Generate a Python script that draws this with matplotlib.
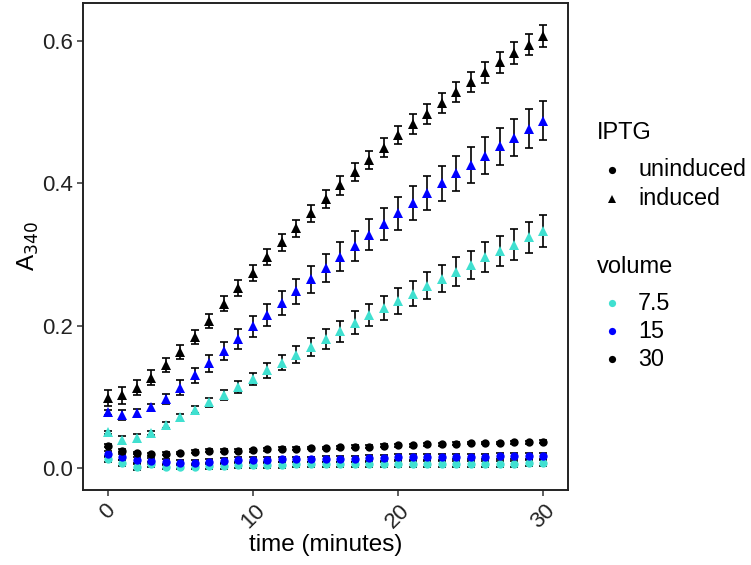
import numpy as np
import matplotlib
matplotlib.use("Agg")
import matplotlib.pyplot as plt
from matplotlib.lines import Line2D

plt.rcParams['font.family'] = ['Liberation Sans', 'DejaVu Sans']

time = list(range(31))

# induced (triangles)
ind_30 = [0.098, 0.102, 0.113, 0.127, 0.145, 0.163, 0.184, 0.206, 0.231, 0.253, 0.274,
          0.296, 0.317, 0.337, 0.358, 0.378, 0.397, 0.416, 0.433, 0.450, 0.468,
          0.483, 0.498, 0.513, 0.528, 0.542, 0.556, 0.570, 0.583, 0.595, 0.607]
ind_30_err = [0.011, 0.012, 0.011, 0.011, 0.010, 0.010, 0.010, 0.010, 0.011, 0.011, 0.011,
              0.011, 0.012, 0.012, 0.012, 0.012, 0.013, 0.013, 0.013, 0.013, 0.013,
              0.014, 0.014, 0.014, 0.014, 0.014, 0.015, 0.015, 0.015, 0.015, 0.016]
ind_15 = [0.078, 0.075, 0.077, 0.085, 0.097, 0.113, 0.130, 0.147, 0.164, 0.181, 0.199,
          0.215, 0.232, 0.248, 0.265, 0.281, 0.297, 0.312, 0.328, 0.343, 0.358,
          0.372, 0.386, 0.400, 0.414, 0.426, 0.439, 0.452, 0.464, 0.477, 0.488]
ind_15_err = [0.004, 0.007, 0.006, 0.005, 0.007, 0.010, 0.011, 0.012, 0.013, 0.014, 0.015,
              0.016, 0.017, 0.018, 0.019, 0.019, 0.020, 0.021, 0.022, 0.022, 0.023,
              0.024, 0.024, 0.025, 0.025, 0.025, 0.026, 0.026, 0.026, 0.027, 0.027]
ind_7_5 = [0.050, 0.039, 0.042, 0.049, 0.060, 0.071, 0.082, 0.092, 0.103, 0.114, 0.125,
           0.137, 0.148, 0.159, 0.170, 0.181, 0.192, 0.204, 0.215, 0.225, 0.235,
           0.245, 0.256, 0.266, 0.276, 0.285, 0.296, 0.305, 0.314, 0.324, 0.333]
ind_7_5_err = [0.002, 0.006, 0.005, 0.003, 0.004, 0.005, 0.005, 0.006, 0.007, 0.008, 0.009,
               0.010, 0.011, 0.012, 0.013, 0.014, 0.015, 0.016, 0.016, 0.017, 0.018,
               0.018, 0.019, 0.019, 0.020, 0.020, 0.021, 0.021, 0.022, 0.022, 0.023]

# uninduced (circles)
un_30 = [0.031, 0.024, 0.021, 0.019, 0.020, 0.021, 0.023, 0.024, 0.024, 0.024, 0.025,
         0.026, 0.027, 0.027, 0.028, 0.028, 0.029, 0.030, 0.030, 0.031, 0.032,
         0.032, 0.033, 0.033, 0.034, 0.035, 0.035, 0.035, 0.036, 0.036, 0.037]
un_30_err = [0.002] * 31
un_15 = [0.020, 0.015, 0.011, 0.010, 0.008, 0.0075, 0.0075, 0.009, 0.010, 0.011, 0.011,
         0.011, 0.012, 0.012, 0.012, 0.013, 0.013, 0.013, 0.014, 0.014, 0.015,
         0.015, 0.015, 0.015, 0.016, 0.016, 0.016, 0.017, 0.017, 0.017, 0.017]
un_15_err = [0.004] * 31
un_7_5 = [0.013, 0.007, 0.001, 0.005, 0.002, 0.002, 0.002, 0.003, 0.003, 0.004, 0.004,
          0.004, 0.004, 0.005, 0.005, 0.005, 0.005, 0.005, 0.005, 0.005, 0.006,
          0.006, 0.006, 0.006, 0.006, 0.006, 0.006, 0.006, 0.006, 0.007, 0.007]
un_7_5_err = [0.004] * 31

volumes = ['7.5', '15', '30']
iptg_levels = ['uninduced', 'induced']
colors = {'7.5': '#40E0D0', '15': '#0000FF', '30': '#000000'}
markers = {'uninduced': 'o', 'induced': '^'}

series = [
    ('7.5', 'uninduced', un_7_5, un_7_5_err),
    ('15', 'uninduced', un_15, un_15_err),
    ('30', 'uninduced', un_30, un_30_err),
    ('7.5', 'induced', ind_7_5, ind_7_5_err),
    ('15', 'induced', ind_15, ind_15_err),
    ('30', 'induced', ind_30, ind_30_err),
]

W, H = 751, 565
fig = plt.figure(figsize=(W / 100, H / 100), dpi=100)
ax = fig.add_axes([83 / W, 1 - 490 / H, 485 / W, 487 / H])

for vol, iptg, vals, err in series:
    ax.errorbar(time, vals, yerr=err, fmt='none', ecolor='black', elinewidth=1.2,
                capsize=2.7, capthick=1.2, zorder=2)
for vol, iptg, vals, err in series:
    ax.plot(time, vals, linestyle='none', marker=markers[iptg],
            markersize=6.8 if iptg == 'induced' else 6.0,
            color=colors[vol], markeredgewidth=0, zorder=3)

ax.set_xlim(-1.72, 31.72)
ax.set_ylim(-0.031, 0.6534)
ax.set_xticks([0, 10, 20, 30])
ax.set_yticks([0.0, 0.2, 0.4, 0.6])
ax.set_yticklabels(['0.0', '0.2', '0.4', '0.6'])
for s in ax.spines.values():
    s.set_linewidth(1.4)
    s.set_color('#222222')
ax.tick_params(length=4, width=1.1, color='#333333', labelsize=16, labelcolor='#222222', pad=3)
plt.setp(ax.get_xticklabels(), rotation=45, ha='center', va='top')
ax.set_xlabel('time (minutes)', fontsize=17.5, labelpad=1)
ax.set_ylabel('A$_{340}$', fontsize=17.5, labelpad=1)


def fxy(x, y):
    return x / W, 1 - y / H


# IPTG legend
fig.text(*fxy(597, 133), 'IPTG', fontsize=17, va='center', ha='left')
for i, lev in enumerate(iptg_levels):
    y = 170 + 29 * i
    fig.add_artist(Line2D([612 / W], [1 - y / H], transform=fig.transFigure,
                          linestyle='none', marker=markers[lev], color='black',
                          markersize=5.2 if lev == 'uninduced' else 5.8,
                          markeredgewidth=0))
    fig.text(*fxy(638, y), lev, fontsize=16.8, va='center', ha='left')

# volume legend
fig.text(*fxy(597, 267), 'volume', fontsize=17, va='center', ha='left')
for i, vol in enumerate(volumes):
    y = 303 + 28 * i
    fig.add_artist(Line2D([612 / W], [1 - y / H], transform=fig.transFigure,
                          linestyle='none', marker='o', color=colors[vol],
                          markersize=5.2, markeredgewidth=0))
    fig.text(*fxy(638, y), vol, fontsize=16.8, va='center', ha='left')

fig.savefig('out.png', dpi=100)
